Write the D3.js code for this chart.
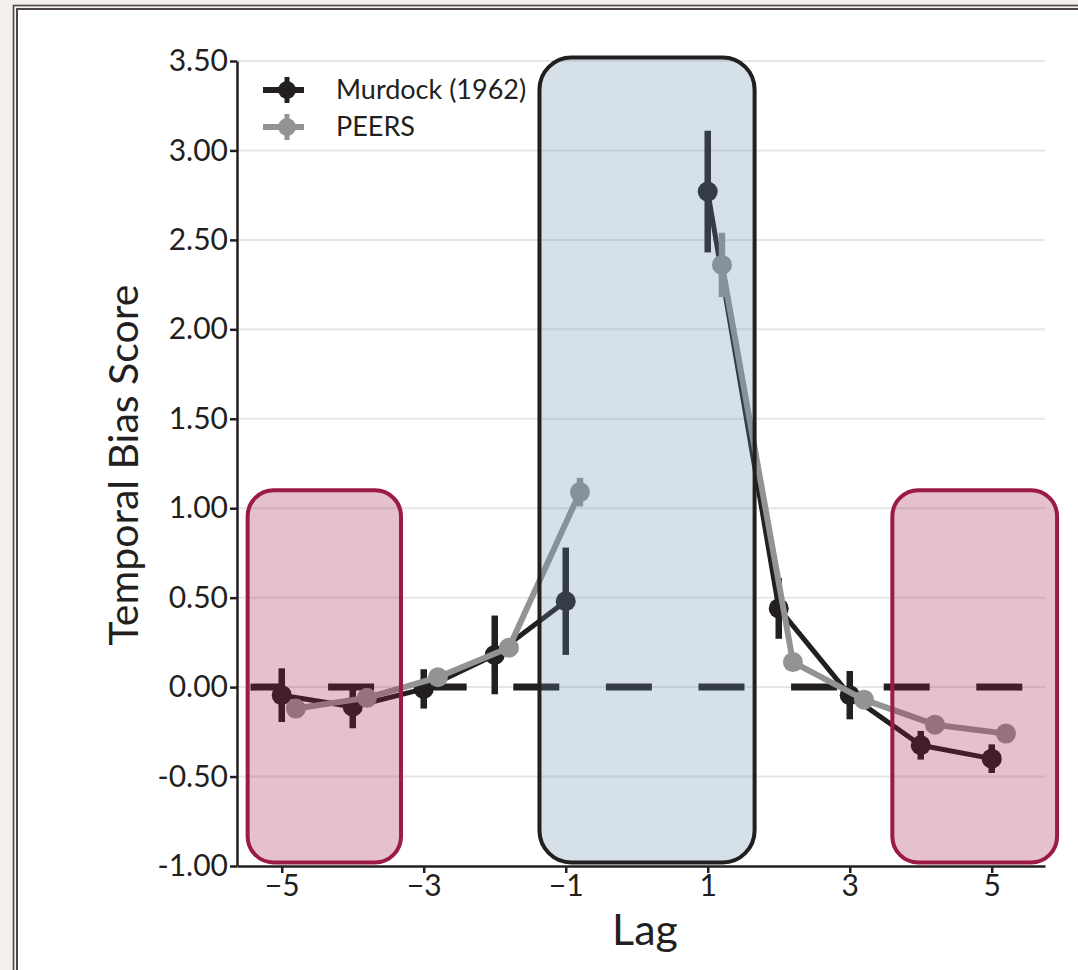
<!DOCTYPE html>
<html>
<head>
<meta charset="utf-8">
<script src="https://cdn.jsdelivr.net/npm/d3@7"></script>
<style>
  body { margin: 0; background: #f3f0eb; }
  svg { display: block; font-family: Lato, "Open Sans", sans-serif; }
</style>
</head>
<body>
<script>
// lags shown on the x axis and the two series (mean, error half-width)
var lags = [-5, -4, -3, -2, -1, 1, 2, 3, 4, 5];
var murdockMean = [-0.045, -0.11, -0.01, 0.18, 0.48, 2.77, 0.44, -0.045, -0.325, -0.40];
var murdockErr  = [0.15, 0.12, 0.11, 0.22, 0.30, 0.34, 0.17, 0.135, 0.08, 0.08];
var peersMean   = [-0.12, -0.06, 0.055, 0.22, 1.09, 2.36, 0.14, -0.07, -0.21, -0.26];
var peersErr    = [0.02, 0.02, 0.02, 0.03, 0.08, 0.18, 0.03, 0.02, 0.02, 0.02];
var seriesNames = ["Murdock (1962)", "PEERS"];

var yTicks = [-1, -0.5, 0, 0.5, 1, 1.5, 2, 2.5, 3, 3.5];
var xTicks = [-5, -3, -1, 1, 3, 5];

// highlighted regions: [lag from, lag to, score from, score to]
var farRegionLeft  = [-5.48, -3.32, -0.98, 1.10];
var nearRegion     = [-1.37, 1.66, -0.98, 3.52];
var farRegionRight = [3.6, 5.92, -0.98, 1.10];

var width = 1078, height = 970;
var dark = "#231f20", grey = "#939393";

var svg = d3.select("body").append("svg")
  .attr("width", width).attr("height", height);

// page background + double frame
svg.append("rect").attr("width", width).attr("height", height).attr("fill", "#f3f0eb");
svg.append("rect").attr("x", 13.5).attr("y", 5.5).attr("width", 1100).attr("height", 1000)
  .attr("fill", "none").attr("stroke", "#4d4545").attr("stroke-width", 1.6);
svg.append("rect").attr("x", 17).attr("y", 9).attr("width", 1100).attr("height", 1000)
  .attr("fill", "#fff").attr("stroke", "#4d4545").attr("stroke-width", 2);

var x = d3.scaleLinear().domain([-5.63, 5.75]).range([237, 1045]);
var y = d3.scaleLinear().domain([-1, 3.5]).range([866, 61]);

// grid
svg.append("g").selectAll("line").data(yTicks.slice(1)).join("line")
  .attr("x1", x.range()[0]).attr("x2", x.range()[1])
  .attr("y1", function(d){ return y(d); }).attr("y2", function(d){ return y(d); })
  .attr("stroke", "#e6e6e6").attr("stroke-width", 2);

// zero reference line
svg.append("line")
  .attr("x1", x(-5.44)).attr("x2", x(5.5))
  .attr("y1", y(0)).attr("y2", y(0))
  .attr("stroke", dark).attr("stroke-width", 7)
  .attr("stroke-dasharray", "46,46.6").attr("stroke-dashoffset", 15);

function drawSeries(means, errs, offset, color, lw) {
  var pts = lags.map(function(l, i){ return {lag: l + offset, v: means[i], e: errs[i], neg: l < 0}; });
  var g = svg.append("g");
  var line = d3.line().x(function(d){ return x(d.lag); }).y(function(d){ return y(d.v); });
  [pts.filter(function(d){ return d.neg; }), pts.filter(function(d){ return !d.neg; })].forEach(function(seg){
    g.append("path").attr("d", line(seg)).attr("fill", "none")
      .attr("stroke", color).attr("stroke-width", lw).attr("stroke-linejoin", "round");
  });
  g.selectAll(".err").data(pts).join("line").attr("class", "err")
    .attr("x1", function(d){ return x(d.lag); }).attr("x2", function(d){ return x(d.lag); })
    .attr("y1", function(d){ return y(d.v - d.e); }).attr("y2", function(d){ return y(d.v + d.e); })
    .attr("stroke", color).attr("stroke-width", 6.5);
  g.selectAll("circle").data(pts).join("circle")
    .attr("cx", function(d){ return x(d.lag); }).attr("cy", function(d){ return y(d.v); })
    .attr("r", 10).attr("fill", color);
}
drawSeries(murdockMean, murdockErr, 0, dark, 5);
drawSeries(peersMean, peersErr, 0.2, grey, 6);

// translucent highlight boxes drawn over the data
function box(r, fill, stroke, radius) {
  svg.append("rect")
    .attr("x", x(r[0])).attr("y", y(r[3]))
    .attr("width", x(r[1]) - x(r[0])).attr("height", y(r[2]) - y(r[3]))
    .attr("rx", radius).attr("ry", radius)
    .attr("fill", fill).attr("stroke", stroke).attr("stroke-width", 4);
}
box(farRegionLeft, "rgba(155,27,69,0.27)", "#9b1b45", 26);
box(farRegionRight, "rgba(155,27,69,0.27)", "#9b1b45", 26);
box(nearRegion, "rgba(99,141,171,0.27)", dark, 32);

// axes
var yAxis = d3.axisLeft(y).tickValues(yTicks).tickSize(7).tickSizeOuter(0)
  .tickFormat(function(d){ return d.toFixed(2); });
var xAxis = d3.axisBottom(x).tickValues(xTicks).tickSize(7).tickSizeOuter(0);

function styleAxis(g) {
  g.select(".domain").attr("stroke", dark).attr("stroke-width", 2.5);
  g.selectAll(".tick line").attr("stroke", dark).attr("stroke-width", 2.5);
  g.selectAll(".tick text").attr("fill", dark).attr("font-size", 30)
    .attr("font-family", "Lato, sans-serif");
}
svg.append("g").attr("transform", "translate(237,0)").call(yAxis).call(styleAxis)
  .selectAll(".tick text").attr("x", -9);
svg.append("g").attr("transform", "translate(0,866)").call(xAxis).call(styleAxis)
  .selectAll(".tick text").attr("y", 9);

svg.append("text").attr("transform", "translate(138,465) rotate(-90)")
  .attr("text-anchor", "middle").attr("font-size", 41).attr("fill", dark)
  .text("Temporal Bias Score");
svg.append("text").attr("x", 645).attr("y", 945)
  .attr("text-anchor", "middle").attr("font-size", 43).attr("fill", dark)
  .text("Lag");

// legend
var legend = svg.append("g");
[[dark, 90], [grey, 127]].forEach(function(s, i){
  var ly = s[1];
  legend.append("line").attr("x1", 263).attr("x2", 304).attr("y1", ly).attr("y2", ly)
    .attr("stroke", s[0]).attr("stroke-width", 6);
  legend.append("line").attr("x1", 287).attr("x2", 287).attr("y1", ly - 13).attr("y2", ly + 13)
    .attr("stroke", s[0]).attr("stroke-width", 5);
  legend.append("circle").attr("cx", 287).attr("cy", ly).attr("r", 9).attr("fill", s[0]);
  legend.append("text").attr("x", 336).attr("y", ly).attr("dy", "0.35em")
    .attr("font-size", 27).attr("fill", dark).text(seriesNames[i]);
});
</script>
</body>
</html>
